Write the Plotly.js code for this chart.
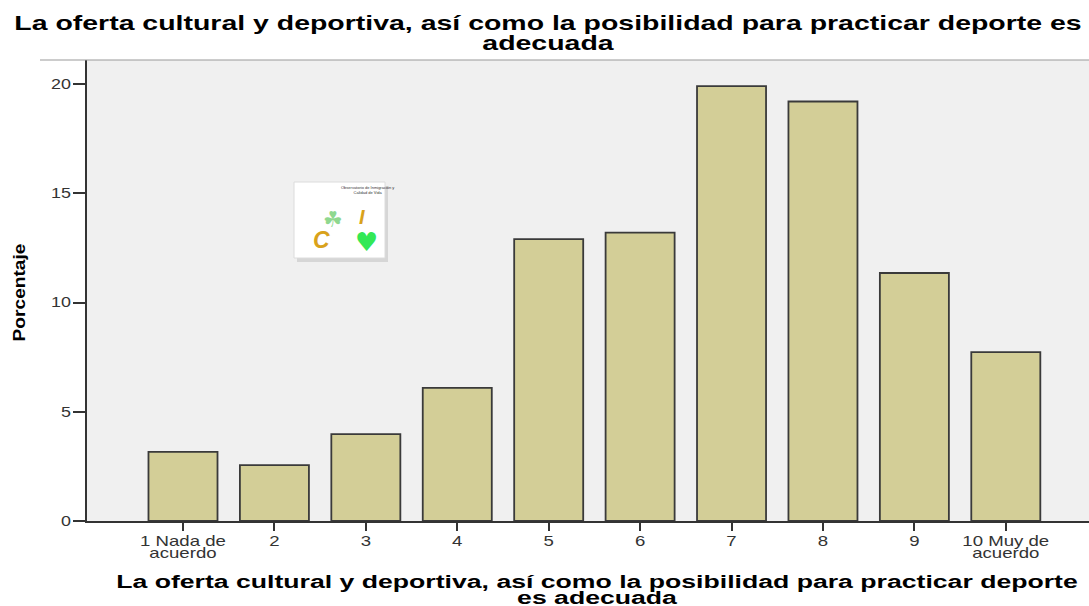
<!DOCTYPE html>
<html>
<head>
<meta charset="utf-8">
<script src="https://cdn.plot.ly/plotly-3.0.1.min.js"></script>
<style>html,body{margin:0;padding:0;background:#fff;}</style>
</head>
<body>
<div id="chart" style="width:1089px;height:606px;"></div>
<script>
const categories = ["1 Nada de<br>acuerdo","2","3","4","5","6","7","8","9","10 Muy de<br>acuerdo"];
const percentages = [3.16, 2.56, 3.98, 6.09, 12.9, 13.2, 19.9, 19.2, 11.35, 7.73];
const yTickValues = [0, 5, 10, 15, 20];
const chartTitle = "La oferta cultural y deportiva, así como la posibilidad para practicar deporte es<br>adecuada";
const xTitle = "La oferta cultural y deportiva, así como la posibilidad para practicar deporte<br>es adecuada";
const yTitle = "Porcentaje";

const PW = 1002, PH = 461; // plot area size in px
function px(x){ return (x-87)/PW; }
function py(y){ return (521-y)/PH; }

const trace = {
  type: 'bar',
  x: categories,
  y: percentages,
  marker: {color: '#d3ce97', line: {color: '#3a3a3a', width: 1.8}},
  hoverinfo: 'skip'
};

const shapes = [
  {type:'line', xref:'paper', yref:'paper', x0:px(40), x1:1.0, y0:1, y1:1, line:{color:'#9a9a9a', width:1.2}},
  {type:'rect', xref:'paper', yref:'paper', x0:px(297), x1:px(388), y0:py(186), y1:py(262), fillcolor:'#c4c4c4', line:{width:0}, opacity:0.6},
  {type:'rect', xref:'paper', yref:'paper', x0:px(294), x1:px(385), y0:py(182), y1:py(258), fillcolor:'#ffffff', line:{color:'#dcdcdc', width:1}}
];

const annotations = [
  {xref:'paper', yref:'paper', x:px(340), y:py(184), text:'Observatorio de Inmigración y<br>Calidad de Vida', showarrow:false, yanchor:'top', borderpad:0, font:{family:'Liberation Sans', size:4, color:'#333'}},
  {xref:'paper', yref:'paper', x:px(322), y:py(206), text:'☘', showarrow:false, borderpad:0, font:{family:'DejaVu Sans', size:22, color:'#8fd88f'}},
  {xref:'paper', yref:'paper', x:px(358), y:py(205), text:'<b><i>I</i></b>', showarrow:false, borderpad:0, font:{family:'Liberation Sans', size:20, color:'#d9a21b'}},
  {xref:'paper', yref:'paper', x:px(312), y:py(240), text:'<b><i>C</i></b>', showarrow:false, borderpad:0, font:{family:'Liberation Sans', size:23, color:'#d9a21b'}},
  {xref:'paper', yref:'paper', x:px(354), y:py(242), text:'♥', showarrow:false, borderpad:0, font:{family:'DejaVu Sans', size:26, color:'#33e855'}}
];

const layout = {
  width: 1089, height: 606,
  margin: {l: 87, r: 0, t: 60, b: 85, pad: 0},
  paper_bgcolor: '#ffffff',
  plot_bgcolor: '#f0f0f0',
  showlegend: false,
  bargap: 0.245,
  title: {text: chartTitle, x: 0.5, xref: 'container', xanchor:'center', yref:'container', y: 0.96, yanchor: 'middle',
          font: {family: 'Liberation Sans', size: 21, color: '#000', weight: 'bold'}},
  xaxis: {
    type: 'category',
    range: [-1.05, 9.91],
    showline: true, linecolor: '#333', linewidth: 2,
    ticks: 'outside', ticklen: 8, tickwidth: 2, tickcolor: '#333',
    showgrid: false, zeroline: false,
    tickfont: {family: 'Liberation Sans', size: 14, color: '#333'},
    title: {text: xTitle, standoff: 10, font: {family: 'Liberation Sans', size: 18, color: '#000', weight: 'bold'}}
  },
  yaxis: {
    range: [0, 21.1],
    tickvals: yTickValues,
    showline: true, linecolor: '#333', linewidth: 2,
    ticks: 'outside', ticklen: 12, tickwidth: 2, tickcolor: '#333',
    showgrid: false, zeroline: false,
    tickfont: {family: 'Liberation Sans', size: 14, color: '#333'},
    title: {text: yTitle, standoff: 40, font: {family: 'Liberation Sans', size: 16.8, color: '#000', weight: 'bold'}}
  },
  shapes: shapes,
  annotations: annotations
};

// The reference picture is widened: stretch texts in their own coordinates,
// tighten line spacing, then move the text box to where the reference has it.
function fit(el, o){
  if (o.lineDy) {
    el.querySelectorAll('tspan.line').forEach(function(ts){
      const d = ts.getAttribute('dy');
      if (d && parseFloat(d) !== 0) ts.setAttribute('dy', o.lineDy);
    });
  }
  const b = el.getBBox();
  const cx = b.x + b.width/2, cy = b.y + b.height/2;
  let t = el.getAttribute('transform') || '';
  t = t + ' translate(' + cx + ',' + cy + ') scale(' + (o.sx||1) + ',' + (o.sy||1) + ') translate(' + (-cx) + ',' + (-cy) + ')';
  el.setAttribute('transform', t);
  const r = el.getBoundingClientRect();
  let dx = 0, dy = 0;
  if (o.centerX !== undefined) dx = o.centerX - (r.left + r.width/2);
  if (o.left !== undefined) dx = o.left - r.left;
  if (o.right !== undefined) dx = o.right - r.right;
  if (o.top !== undefined) dy = o.top - r.top;
  if (o.centerY !== undefined) dy = o.centerY - (r.top + r.height/2);
  el.setAttribute('transform', 'translate(' + dx + ',' + dy + ') ' + t);
}

Plotly.newPlot('chart', [trace], layout, {displayModeBar: false, staticPlot: true}).then(function(){
  document.querySelectorAll('.gtitle').forEach(function(t){ fit(t, {sx:1.356, lineDy:'0.95em', centerX:548, top:11}); });
  document.querySelectorAll('.xtitle').forEach(function(t){ fit(t, {sx:1.48, lineDy:'0.89em', centerX:597, top:571.7}); });
  document.querySelectorAll('.ytitle').forEach(function(t){ fit(t, {sx:1.14, left:9.8, centerY:292.5}); });
  document.querySelectorAll('.xtick text').forEach(function(t){ fit(t, {sx:1.33, lineDy:'0.88em', top:533}); });
  document.querySelectorAll('.ytick text').forEach(function(t){ fit(t, {sx:1.28, right:71}); });
});
</script>
</body>
</html>
